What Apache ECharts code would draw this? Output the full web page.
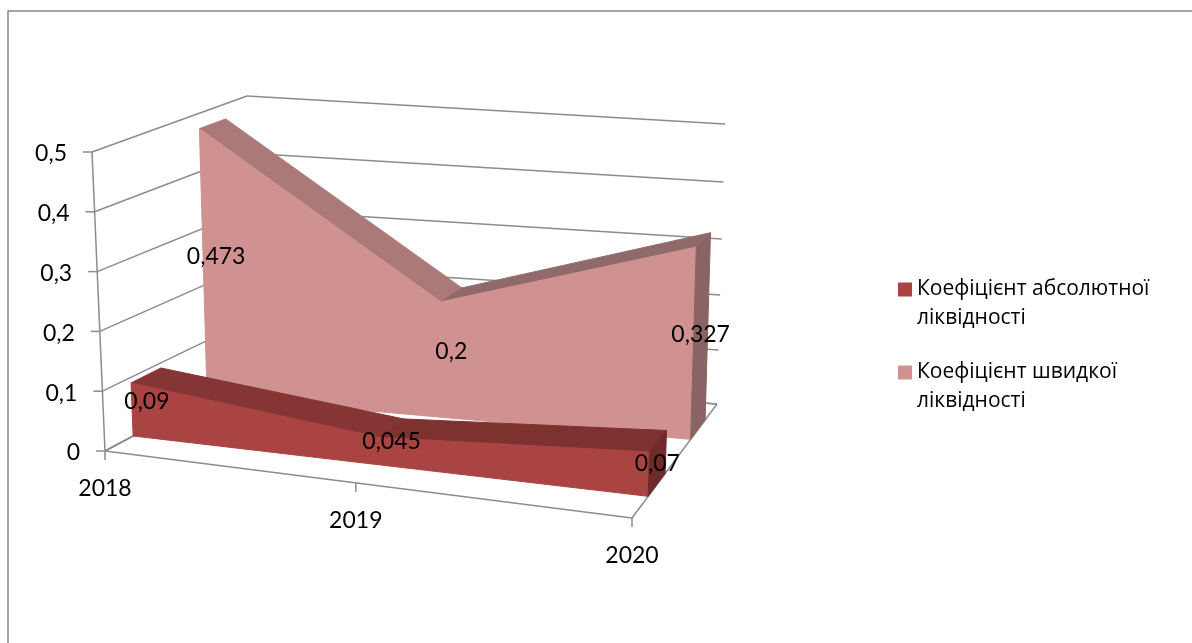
<!DOCTYPE html>
<html><head><meta charset="utf-8">
<style>html,body{margin:0;padding:0;background:#fff}#c{width:1192px;height:643px}</style>
<script src="https://cdn.jsdelivr.net/npm/echarts@6/dist/echarts.min.js"></script>
</head><body><div id="c"></div>
<script>
const years = ['2018', '2019', '2020'];
const absoluteValues = [0.09, 0.045, 0.07];
const quickValues = [0.473, 0.2, 0.327];
const valueTicks = [0, 0.1, 0.2, 0.3, 0.4, 0.5];
const seriesNames = ['Коефіцієнт абсолютної\nліквідності', 'Коефіцієнт швидкої\nліквідності'];

// Projection of the unit box (category, value, depth) to the page: corners of the 3D frame.
const corners = {
  flb: [105, 451], flt: [92, 152], frb: [632, 518], frt: [642, 193],
  blb: [253, 372], blt: [247, 96], brb: [717, 404], brt: [725, 124]
};
function project(u, w, d) {
  const persp = 0.908 + 0.04 * d;
  const t = persp * u / (1 + (persp - 1) * u);
  const mix = (a, b, k) => [a[0] + (b[0] - a[0]) * k, a[1] + (b[1] - a[1]) * k];
  const c = corners;
  const fb = mix(c.flb, c.frb, t), ft = mix(c.flt, c.frt, t);
  const bb = mix(c.blb, c.brb, t), bt = mix(c.blt, c.brt, t);
  return mix(mix(fb, ft, w), mix(bb, bt, w), d);
}
function mapper(api) {
  const o = api.coord([0, 0]), e = api.coord([2, 0.5]);
  return (cat, val, depth, bow) => {
    const p = api.coord([cat, val]);
    let w = (p[1] - o[1]) / (e[1] - o[1]);
    if (bow) w = bow * w / (1 + (bow - 1) * w);
    return project((p[0] - o[0]) / (e[0] - o[0]), w, depth);
  };
}
const FONT = 'Lato, "Open Sans", sans-serif';
const FS = 23;
const AXIS = '#8c8c8c';
const BACK_WALL_BOW = 0.955;
const line = (a, b, w) => ({ type: 'line', shape: { x1: a[0], y1: a[1], x2: b[0], y2: b[1] }, style: { stroke: AXIS, lineWidth: w || 1.5 } });
const label = (txt, p, align, z2) => ({ type: 'text', z2: z2 || 5, style: { text: txt, x: p[0], y: p[1], align: align || 'center', verticalAlign: 'middle', fill: '#000', font: FS + 'px ' + FONT } });
const fmt = v => String(v).replace('.', ',');
const poly = (pts, fill) => ({ type: 'polygon', shape: { points: pts }, style: { fill: fill, stroke: fill, lineWidth: 1 } });

function renderValueTick(params, api) {
  const P = mapper(api), v = api.value(1);
  const a = P(0, v, 0), b = P(0, v, 1, BACK_WALL_BOW), c = P(2, v, 1, BACK_WALL_BOW);
  return { type: 'group', children: [
    line(a, b), line(b, c), line(a, [a[0] - 9, a[1]]),
    label(fmt(v), [a[0] - 25, a[1] + 2], 'right')
  ] };
}
function renderYear(params, api) {
  const P = mapper(api), i = api.value(0), f = P(i, 0, 0);
  const kids = [line(f, [f[0], f[1] + 9]), label(years[i], [f[0], f[1] + 38])];
  if (i === 0) {
    kids.push(line(P(0, 0, 0), P(0, 0, 1)), line(P(0, 0, 0), P(2, 0, 0)),
      line(P(2, 0, 0), P(2, 0, 1)), line(P(0, 0, 1), P(2, 0, 1)),
      line(P(0, 0, 0), P(0, 0.5, 0)));
  }
  return { type: 'group', children: kids };
}
function areaRenderer(zf, zb, front, tops, end, values) {
  return function (params, api) {
    const P = mapper(api), i = params.dataIndex, v = values[i], kids = [];
    if (i < values.length - 1) {
      const n = values[i + 1];
      kids.push(poly([P(i, v, zf), P(i + 1, n, zf), P(i + 1, n, zb), P(i, v, zb)], tops[i]));
      kids.push(poly([P(i, 0, zf), P(i + 1, 0, zf), P(i + 1, n, zf), P(i, v, zf)], front));
    } else {
      kids.push(poly([P(i, 0, zf), P(i, 0, zb), P(i, v, zb), P(i, v, zf)], end));
    }
    kids.push(label(fmt(api.value(1)), P(i, v / 2, (zf + zb) / 2), 'center', 20));
    return { type: 'group', children: kids };
  };
}

const chart = echarts.init(document.getElementById('c'), null, { renderer: 'canvas' });
chart.setOption({
  animation: false,
  backgroundColor: '#fff',
  grid: { left: 100, right: 100, top: 100, bottom: 100 },
  xAxis: { type: 'category', data: years, boundaryGap: false, show: false },
  yAxis: { type: 'value', min: 0, max: 0.5, interval: 0.1, show: false },
  tooltip: { show: false },
  legend: {
    orient: 'vertical', left: 898, top: 246, itemWidth: 14, itemHeight: 14, itemGap: -4,
    padding: 0, selectedMode: false, icon: 'rect',
    data: seriesNames,
    formatter: n => '\n' + n,
    textStyle: { fontFamily: '"Open Sans", sans-serif', fontSize: 21, lineHeight: 29, color: '#000' }
  },
  graphic: [{ type: 'polyline', shape: { points: [[8, 643], [8, 11], [1192, 11]] }, style: { stroke: '#868686', fill: null, lineWidth: 1.5 } }],
  series: [
    { type: 'custom', silent: true, data: valueTicks.map(v => [0, v]), renderItem: renderValueTick, encode: { x: 0, y: 1 } },
    { type: 'custom', silent: true, data: years.map((y, i) => [i, 0]), renderItem: renderYear, encode: { x: 0, y: 1 } },
    { type: 'custom', name: seriesNames[1], silent: true, itemStyle: { color: '#D09290' },
      data: quickValues.map((v, i) => [i, v]), encode: { x: 0, y: 1 },
      renderItem: areaRenderer(0.69, 0.86, '#D09290', ['#AB7978', '#906A6A'], '#8A6464', quickValues) },
    { type: 'custom', name: seriesNames[0], silent: true, itemStyle: { color: '#AA4442' },
      data: absoluteValues.map((v, i) => [i, v]), encode: { x: 0, y: 1 },
      renderItem: areaRenderer(0.19, 0.39, '#AA4442', ['#853533', '#7E3230'], '#6F2B2A', absoluteValues) }
  ]
});
</script></body></html>
